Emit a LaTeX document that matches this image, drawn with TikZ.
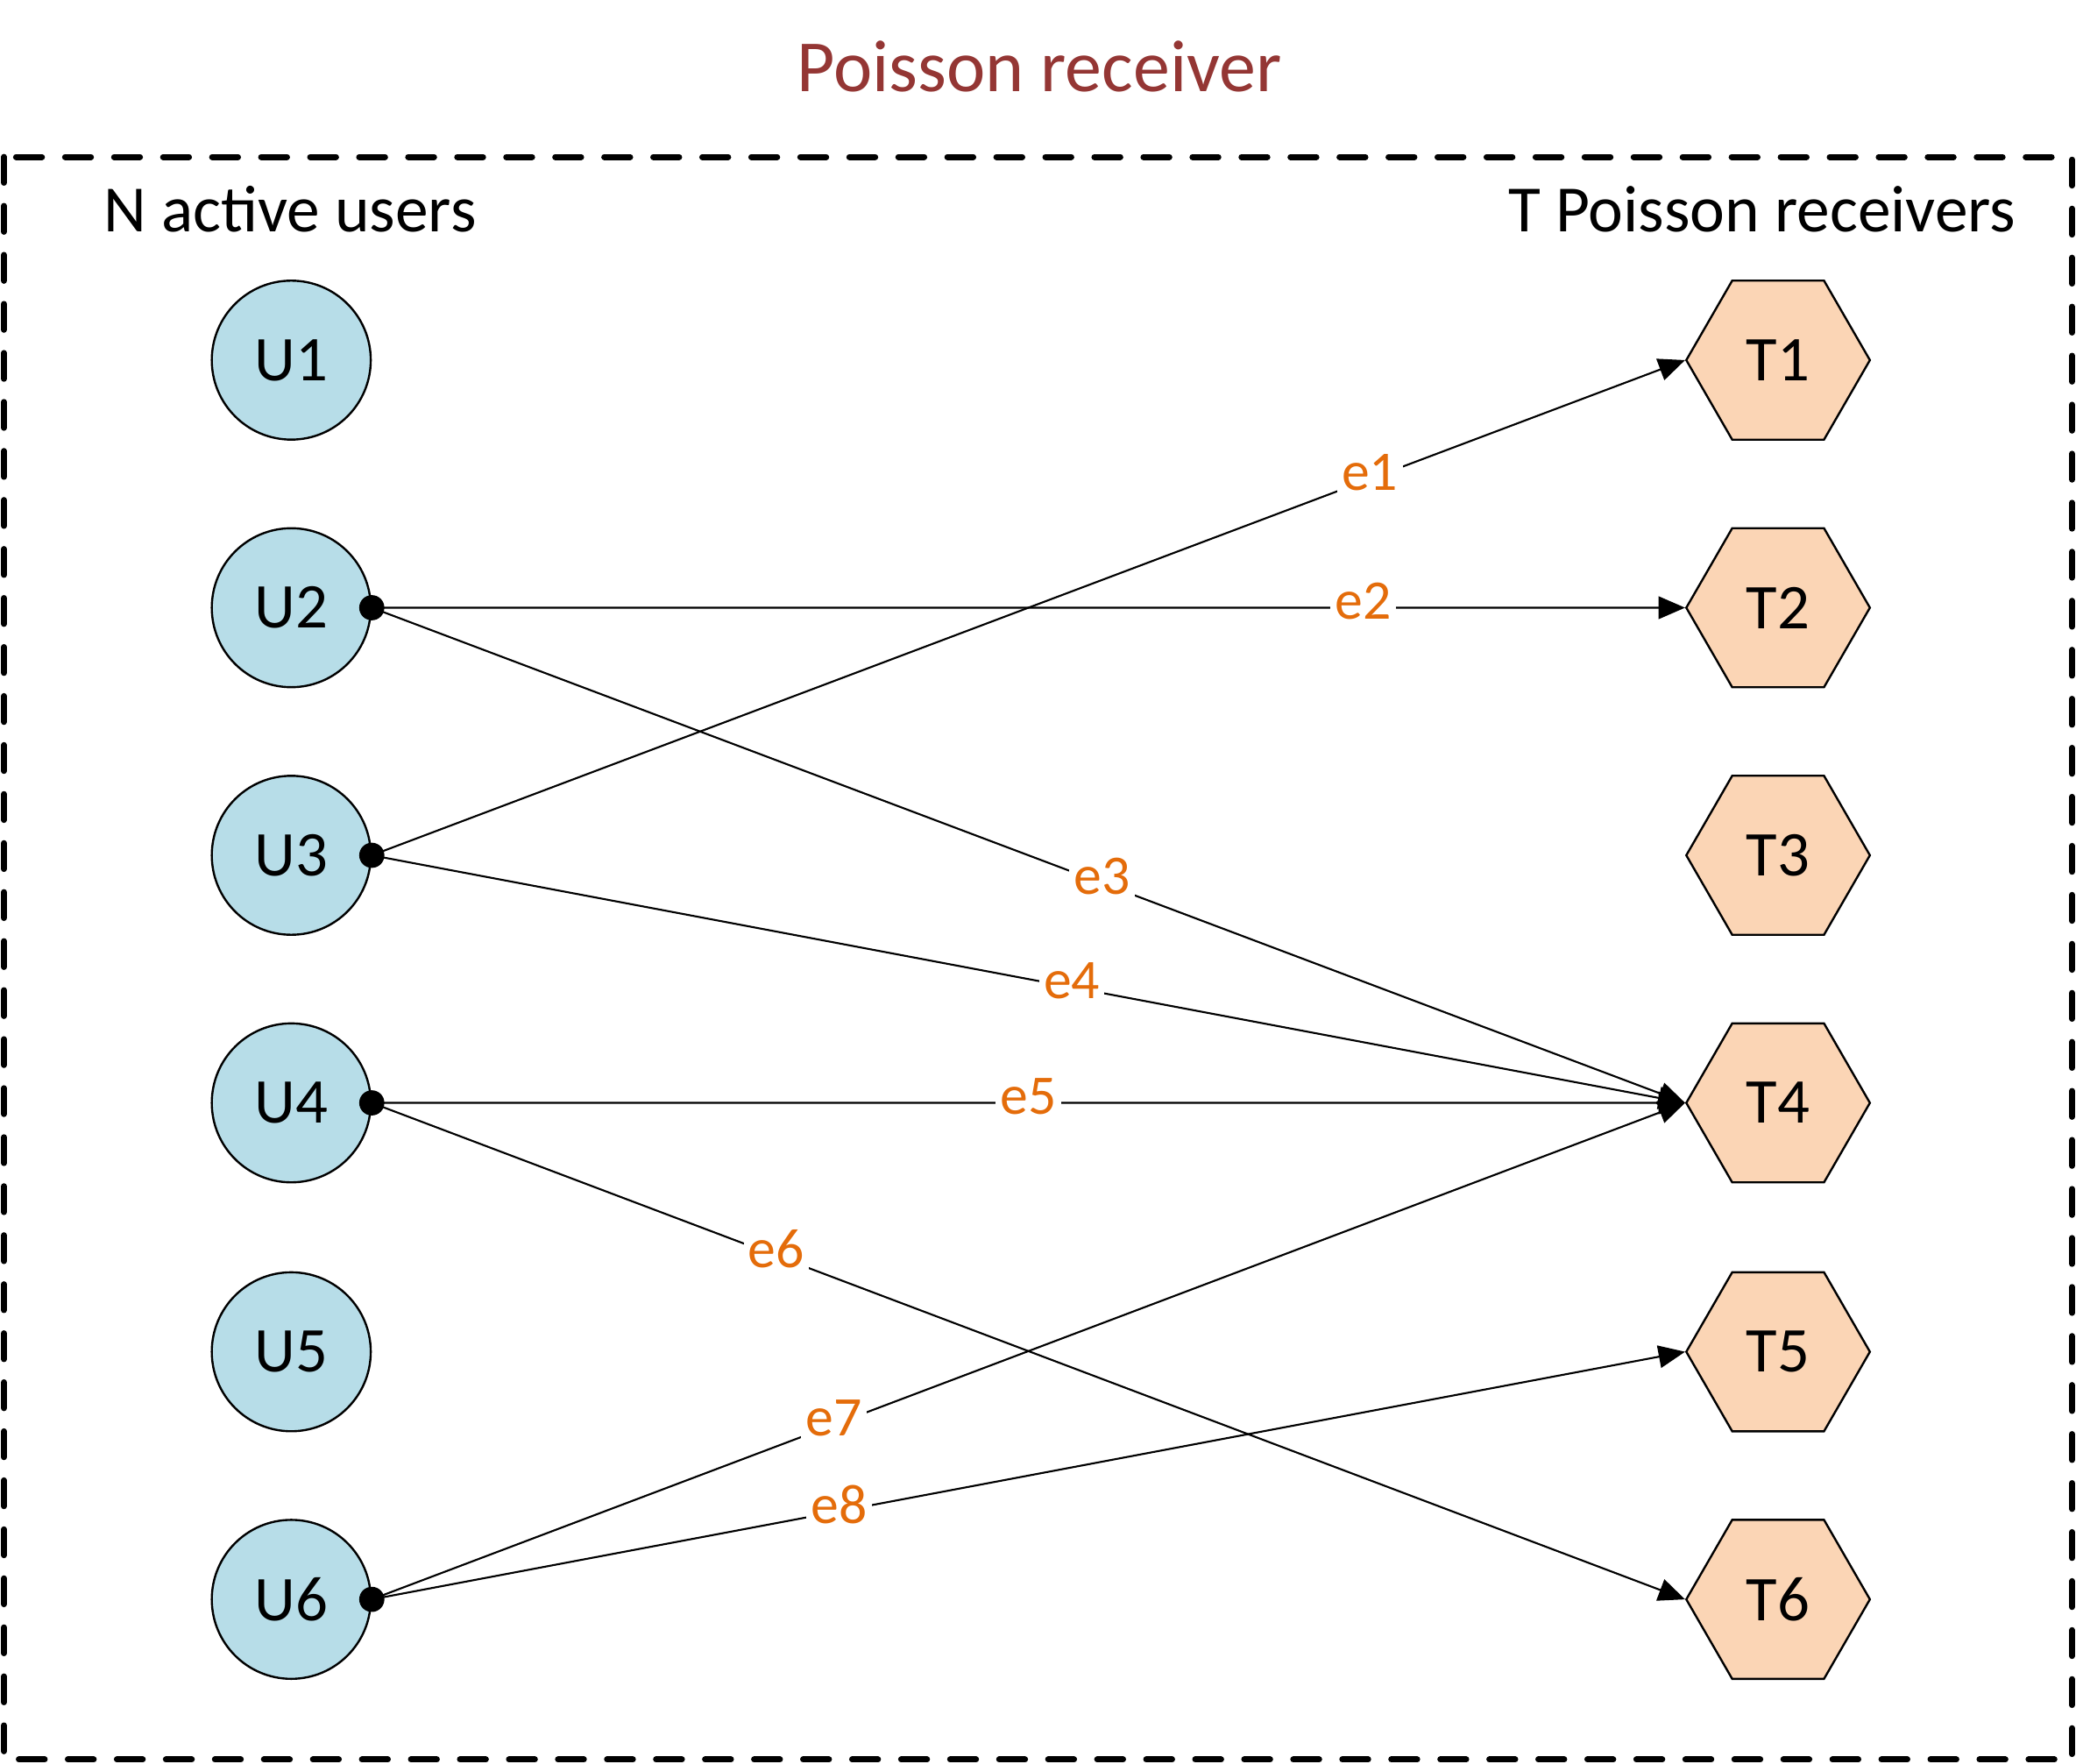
\documentclass[tikz,border=0pt]{standalone}
\usepackage{fontspec}
\setmainfont{Carlito}
\usetikzlibrary{arrows.meta,shapes.geometric}

\definecolor{userblue}{HTML}{B7DDE8}
\definecolor{rxorange}{HTML}{FBD5B5}
\definecolor{titlered}{HTML}{943634}
\definecolor{edgeorange}{HTML}{E46C0A}

\begin{document}
\begin{tikzpicture}[x=0.01cm, y=-0.01cm,
  user/.style={draw, circle, fill=userblue, line width=0.45pt, minimum size=1.2cm, inner sep=0pt, font=\fontsize{13.7}{16}\selectfont},
  receiver/.style={draw, regular polygon, regular polygon sides=6, fill=rxorange, line width=0.45pt, minimum size=1.386cm, inner sep=0pt, font=\fontsize{13.7}{16}\selectfont},
  edge/.style={-{Triangle[length=2mm, width=1.7mm]}, line width=0.4pt},
  elabel/.style={fill=white, inner sep=1pt, yshift=0.05cm, text=edgeorange, font=\fontsize{12}{14}\selectfont},
  heading/.style={font=\fontsize{14.2}{17}\selectfont}]
\useasboundingbox (0,0) rectangle (1568,1332);

\node[font=\fontsize{15.8}{19}\selectfont, text=titlered] (title) at (785,50) {Poisson receiver};
\draw[line width=1.3pt, line cap=round, dash pattern=on 0.195cm off 0.175cm] (3,118.5) rectangle (1565,1329);

\node[heading] (users) at (219,158) {N active users};
\node[heading] (receivers) at (1331,158) {T Poisson receivers};

% active users
\node[user] (U1) at (220,272) {U1};
\node[user] (U2) at (220,459) {U2};
\node[user] (U3) at (220,646) {U3};
\node[user] (U4) at (220,833) {U4};
\node[user] (U5) at (220,1021) {U5};
\node[user] (U6) at (220,1208) {U6};

% Poisson receivers
\node[receiver] (T1) at (1343,272) {T1};
\node[receiver] (T2) at (1343,459) {T2};
\node[receiver] (T3) at (1343,646) {T3};
\node[receiver] (T4) at (1343,833) {T4};
\node[receiver] (T5) at (1343,1021) {T5};
\node[receiver] (T6) at (1343,1208) {T6};

% edges
\draw[edge] (U3.east) -- node[elabel, pos=0.76] {e1} (T1.west);
\draw[edge] (U2.east) -- node[elabel, pos=0.755] {e2} (T2.west);
\draw[edge] (U2.east) -- node[elabel, pos=0.556] {e3} (T4.west);
\draw[edge] (U3.east) -- node[elabel, pos=0.533] {e4} (T4.west);
\draw[edge] (U4.east) -- node[elabel, pos=0.5] {e5} (T4.west);
\draw[edge] (U4.east) -- node[elabel, pos=0.308] {e6} (T6.west);
\draw[edge] (U6.east) -- node[elabel, pos=0.352] {e7} (T4.west);
\draw[edge] (U6.east) -- node[elabel, pos=0.356] {e8} (T5.west);

\fill (U2.east) circle (0.095cm);
\fill (U3.east) circle (0.095cm);
\fill (U4.east) circle (0.095cm);
\fill (U6.east) circle (0.095cm);
\end{tikzpicture}
\end{document}
